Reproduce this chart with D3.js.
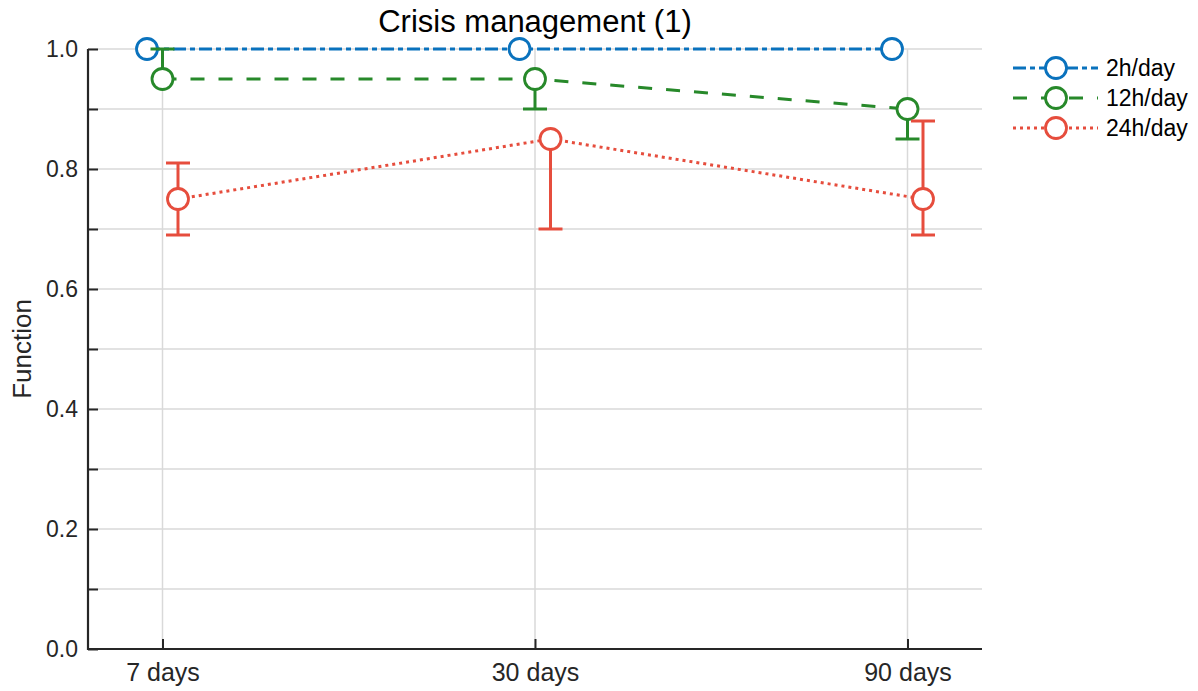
<!DOCTYPE html>
<html>
<head>
<meta charset="utf-8">
<script src="https://cdn.jsdelivr.net/npm/d3@7"></script>
<style>
  body { margin: 0; background: #fff; }
  svg { font-family: "Liberation Sans", Arial, sans-serif; }
</style>
</head>
<body>
<svg id="chart" width="1198" height="691"></svg>
<script>
const categories = ["7 days", "30 days", "90 days"];
const seriesNames = ["2h/day", "12h/day", "24h/day"];
const values2h = [1.0, 1.0, 1.0];
const values12h = [0.95, 0.95, 0.90];
const values24h = [0.75, 0.85, 0.75];
const lower12h = [0.95, 0.90, 0.85];
const upper12h = [1.0, 0.95, 0.90];
const lower24h = [0.69, 0.70, 0.69];
const upper24h = [0.81, 0.85, 0.88];
const yTicks = [0, 0.1, 0.2, 0.3, 0.4, 0.5, 0.6, 0.7, 0.8, 0.9, 1.0];
const yLabelTicks = [0, 0.2, 0.4, 0.6, 0.8, 1.0];

const series = [
  { name: seriesNames[0], values: values2h, lower: null, upper: null, color: "#0a72bd", dash: "13,4,5,4", dodge: -15.5 },
  { name: seriesNames[1], values: values12h, lower: lower12h, upper: upper12h, color: "#27892a", dash: "14,14", dodge: 0 },
  { name: seriesNames[2], values: values24h, lower: lower24h, upper: upper24h, color: "#e64d3d", dash: "3,4", dodge: 15.5 }
];

const svg = d3.select("#chart");
const mLeft = 88, mRight = 982, mTop = 49, mBottom = 649;

const x = d3.scalePoint().domain(categories).range([mLeft, mRight]).padding(0.2);
const y = d3.scaleLinear().domain([0, 1]).range([mBottom, mTop]);

// grid
const grid = svg.append("g");
grid.selectAll("line.h").data(yTicks.filter(d => d > 0)).join("line")
  .attr("x1", mLeft).attr("x2", mRight)
  .attr("y1", d => y(d)).attr("y2", d => y(d))
  .attr("stroke", "#d9d9d9").attr("stroke-width", 1.5);
grid.selectAll("line.v").data(categories).join("line")
  .attr("x1", d => x(d)).attr("x2", d => x(d))
  .attr("y1", mTop).attr("y2", mBottom)
  .attr("stroke", "#d9d9d9").attr("stroke-width", 1.5);

// axes
const yAxis = d3.axisLeft(y).tickValues(yTicks).tickSize(-10)
  .tickFormat(d => yLabelTicks.some(t => Math.abs(t - d) < 1e-9) ? d3.format(".1f")(d) : "");
const gy = svg.append("g").attr("transform", `translate(${mLeft},0)`).call(yAxis);
gy.select(".domain").remove();
gy.selectAll(".tick line").attr("stroke", "#262626").attr("stroke-width", 2);
gy.selectAll(".tick text").attr("x", -10).attr("font-size", 23).attr("fill", "#262626")
  .attr("font-family", "Liberation Sans, Arial, sans-serif");

const xAxis = d3.axisBottom(x).tickSize(-10);
const gx = svg.append("g").attr("transform", `translate(0,${mBottom})`).call(xAxis);
gx.select(".domain").remove();
gx.selectAll(".tick line").attr("stroke", "#262626").attr("stroke-width", 2);
gx.selectAll(".tick text").attr("y", 14).attr("font-size", 25).attr("fill", "#262626")
  .attr("font-family", "Liberation Sans, Arial, sans-serif");

svg.append("line").attr("x1", mLeft).attr("x2", mLeft).attr("y1", mTop).attr("y2", mBottom + 1)
  .attr("stroke", "#262626").attr("stroke-width", 2.2);
svg.append("line").attr("x1", mLeft - 1).attr("x2", mRight).attr("y1", mBottom).attr("y2", mBottom)
  .attr("stroke", "#262626").attr("stroke-width", 2.2);

// title & label
svg.append("text").attr("x", (mLeft + mRight) / 2).attr("y", 32).attr("text-anchor", "middle")
  .attr("font-size", 31).attr("fill", "#000").text("Crisis management (1)");
svg.append("text").attr("transform", `translate(31,${(mTop + mBottom) / 2}) rotate(-90)`)
  .attr("text-anchor", "middle").attr("font-size", 26).attr("fill", "#262626").text("Function");

// series
series.forEach(s => {
  const g = svg.append("g");
  const pts = categories.map((c, i) => ({ c, i, v: s.values[i], px: x(c) + s.dodge }));
  g.append("path").datum(pts)
    .attr("d", d3.line().x(d => d.px).y(d => y(d.v)))
    .attr("fill", "none").attr("stroke", s.color).attr("stroke-width", 3)
    .attr("stroke-dasharray", s.dash);
  if (s.lower) {
    pts.forEach(p => {
      const lo = s.lower[p.i], hi = s.upper[p.i];
      g.append("line").attr("x1", p.px).attr("x2", p.px).attr("y1", y(lo)).attr("y2", y(hi))
        .attr("stroke", s.color).attr("stroke-width", 3);
      [lo, hi].forEach(v => {
        if (Math.abs(v - p.v) > 1e-9) {
          g.append("line").attr("x1", p.px - 12).attr("x2", p.px + 12).attr("y1", y(v)).attr("y2", y(v))
            .attr("stroke", s.color).attr("stroke-width", 3);
        }
      });
    });
  }
  g.selectAll("circle").data(pts).join("circle")
    .attr("cx", d => d.px).attr("cy", d => y(d.v)).attr("r", 10.5)
    .attr("fill", "#fff").attr("stroke", s.color).attr("stroke-width", 2.8);
});

// legend
const legend = svg.append("g");
series.forEach((s, i) => {
  const ly = 68 + i * 30;
  legend.append("line").attr("x1", 1013).attr("x2", 1098).attr("y1", ly).attr("y2", ly)
    .attr("stroke", s.color).attr("stroke-width", 3).attr("stroke-dasharray", s.dash);
  legend.append("circle").attr("cx", 1056).attr("cy", ly).attr("r", 10.5)
    .attr("fill", "#fff").attr("stroke", s.color).attr("stroke-width", 2.8);
  legend.append("text").attr("x", 1106).attr("y", ly + 8).attr("font-size", 23).attr("fill", "#000").text(s.name);
});
</script>
</body>
</html>
